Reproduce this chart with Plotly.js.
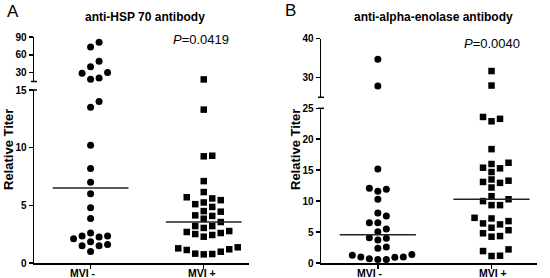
<!DOCTYPE html>
<html><head><meta charset="utf-8">
<script src="https://cdn.plot.ly/plotly-3.0.1.min.js"></script>
<style>html,body{margin:0;padding:0;background:#fff}#chart{width:550px;height:278px}</style>
</head><body><div id="chart"></div>
<script>
// ---------- data ----------
const categories = ['MVI -', 'MVI +'];
const hspNeg = [81, 73, 49, 40, 29, 30, 19, 21, 14.0, 13.5, 10.2, 8.2, 7.0, 6.0, 4.8, 3.85, 2.6, 2.35, 2.1, 2.25, 2.35, 1.85, 1.5, 1.5, 1.6, 1.0];
const hspPos = [18.5, 13.3, 9.3, 9.25, 7.1, 6.15, 5.7, 5.6, 5.45, 5.25, 5.1, 4.86, 4.5, 4.45, 4.13, 4.08, 3.84, 3.55, 3.2, 3.2, 3.04, 2.77, 2.69, 2.6, 2.51, 2.43, 2.28, 1.36, 1.27, 1.19, 1.13, 0.98, 0.81, 0.78, 0.75];
const enoNeg = [34.7, 27.9, 15.2, 12.1, 11.9, 11.6, 10.3, 8.1, 7.6, 6.5, 6.5, 5.5, 5.05, 4.1, 4.0, 3.7, 2.6, 2.4, 1.37, 1.27, 0.97, 0.95, 0.92, 0.68, 0.58, 0.55];
const enoPos = [31.7, 28.0, 23.6, 23.3, 22.9, 18.4, 16.2, 16.0, 15.4, 15.3, 14.7, 13.5, 13.3, 13.1, 12.95, 12.2, 10.8, 10.3, 10.0, 9.35, 9.35, 7.3, 7.2, 6.77, 6.4, 6.24, 5.7, 5.3, 4.8, 4.35, 4.25, 2.2, 1.93, 1.18, 1.13];
const hspTicksLower = [0, 5, 10, 15];
const hspTicksUpper = [30, 60, 90];
const enoTicksLower = [0, 5, 10, 15, 20, 25];
const enoTicksUpper = [30, 40];
const titles = ['anti-HSP 70 antibody', 'anti-alpha-enolase antibody'];
const pValues = ['0.0419', '0.0040'];
const panelLetters = ['A', 'B'];
const yTitle = 'Relative Titer';

// ---------- geometry (pixels) ----------
const W = 550, H = 278;
const FONT = 'Liberation Sans, Arial, sans-serif';
const panels = [
  {x0: 34, x1: 249, xr: [-0.5, 1.4],
   lower: {range: [0, 15], top: 90, bot: 263, ticks: hspTicksLower},
   upper: {range: [15, 90], top: 37, bot: 81.5, ticks: hspTicksUpper},
   groups: [hspNeg, hspPos], catShift: [-8, -2],
   title: {x: 145, y: 17}, p: {x: 201, y: 39}, letter: {x: 13, y: 12}, ytitle: {x: 8, y: 150}},
  {x0: 321, x1: 537, xr: [-0.5, 1.4],
   lower: {range: [0, 25], top: 108.3, bot: 263, ticks: enoTicksLower},
   upper: {range: [25, 40], top: 38.5, bot: 97.3, ticks: enoTicksUpper},
   groups: [enoNeg, enoPos], catShift: [-8, 1],
   title: {x: 433, y: 17}, p: {x: 492, y: 43}, letter: {x: 290, y: 11}, ytitle: {x: 295, y: 150}}
];

function segPx(seg, v) {
  return seg.bot - (v - seg.range[0]) / (seg.range[1] - seg.range[0]) * (seg.bot - seg.top);
}
function median(a) {
  const s = a.slice().sort((x, y) => x - y), n = s.length;
  return n % 2 ? s[(n - 1) / 2] : (s[n / 2 - 1] + s[n / 2]) / 2;
}
// simple column beeswarm: each slot is a column; no two marks in a column closer than d px
function swarm(vals, panel) {
  const slotPx = 8.5, d = 7.2;
  const pxPerUnit = (panel.x1 - panel.x0) / (panel.xr[1] - panel.xr[0]);
  const order = vals.map((v, i) => i).sort((a, b) => vals[a] - vals[b]);
  const placed = [], off = new Array(vals.length);
  for (const i of order) {
    const v = vals[i];
    const py = v > panel.lower.range[1] ? segPx(panel.upper, v) : segPx(panel.lower, v);
    for (let k = 0; k < 40; k++) {
      const s = k === 0 ? 0 : (k % 2 ? Math.ceil(k / 2) : -Math.ceil(k / 2));
      if (!placed.some(p => p.s === s && Math.abs(p.py - py) < d)) {
        placed.push({s, py}); off[i] = s * slotPx / pxPerUnit; break;
      }
    }
  }
  return off;
}

const traces = [], layout = {
  width: W, height: H, margin: {l: 0, r: 0, t: 0, b: 0},
  paper_bgcolor: '#fff', plot_bgcolor: 'rgba(0,0,0,0)', showlegend: false,
  hovermode: false, annotations: [], shapes: []
};
const tickFont = {family: FONT, size: 10, color: '#000', weight: 700};

panels.forEach((P, pi) => {
  const xa = pi === 0 ? 'x' : 'x2';
  const yl = pi === 0 ? 'y' : 'y3';
  const yu = pi === 0 ? 'y2' : 'y4';
  const xKey = pi === 0 ? 'xaxis' : 'xaxis2';
  const ylKey = pi === 0 ? 'yaxis' : 'yaxis3';
  const yuKey = pi === 0 ? 'yaxis2' : 'yaxis4';
  const axX = P.x0 / W;
  layout[xKey] = {domain: [P.x0 / W, P.x1 / W], range: P.xr, anchor: yl,
    tickvals: [0, 1], ticktext: categories, showticklabels: false, ticks: 'outside', ticklen: 4, tickwidth: 1.5,
    showline: true, linewidth: 1.5, linecolor: '#000', tickcolor: '#000',
    showgrid: false, zeroline: false, fixedrange: true, automargin: false};
  const yCommon = {anchor: xa, ticks: 'outside', ticklen: 4, tickwidth: 1.5, tickcolor: '#000',
    showline: true, linewidth: 1.5, linecolor: '#000', showgrid: false, zeroline: false,
    tickfont: tickFont, fixedrange: true, automargin: false};
  layout[ylKey] = Object.assign({}, yCommon, {domain: [1 - P.lower.bot / H, 1 - P.lower.top / H],
    range: P.lower.range, tickvals: P.lower.ticks});
  layout[yuKey] = Object.assign({}, yCommon, {domain: [1 - P.upper.bot / H, 1 - P.upper.top / H],
    range: P.upper.range, tickvals: P.upper.ticks});

  P.groups.forEach((vals, gi) => {
    const off = swarm(vals, P);
    const lo = {x: [], y: []}, up = {x: [], y: []};
    vals.forEach((v, i) => {
      const tgt = v > P.lower.range[1] ? up : lo;
      tgt.x.push(gi + off[i]); tgt.y.push(v);
    });
    const marker = gi === 0 ? {symbol: 'circle', size: 7, color: '#000'} : {symbol: 'square', size: 6.5, color: '#000'};
    traces.push({type: 'scatter', mode: 'markers', x: lo.x, y: lo.y, xaxis: xa, yaxis: yl, marker, cliponaxis: false});
    traces.push({type: 'scatter', mode: 'markers', x: up.x, y: up.y, xaxis: xa, yaxis: yu, marker, cliponaxis: false});
    const m = median(vals);
    traces.push({type: 'scatter', mode: 'lines', x: [gi - 0.335, gi + 0.335], y: [m, m], xaxis: xa, yaxis: yl,
      line: {color: '#222', width: 1.5}, cliponaxis: false});
    // category label
    layout.annotations.push({xref: xa, yref: 'paper', x: gi, y: 1 - 273 / H, xshift: P.catShift[gi],
      text: '<b>' + categories[gi] + '</b>', showarrow: false, xanchor: 'center', yanchor: 'middle',
      font: {family: FONT, size: 10.5, color: '#000'}});
  });

  // axis break caps
  [P.upper.bot, P.lower.top].forEach(py => {
    layout.shapes.push({type: 'line', xref: 'paper', yref: 'paper', x0: axX - 3 / W, x1: axX + 3 / W,
      y0: 1 - py / H, y1: 1 - py / H, line: {color: '#000', width: 1.5}});
  });

  layout.annotations.push({xref: 'paper', yref: 'paper', x: P.title.x / W, y: 1 - P.title.y / H,
    text: '<b>' + titles[pi] + '</b>', showarrow: false, xanchor: 'center', yanchor: 'middle',
    font: {family: FONT, size: 12, color: '#000'}});
  layout.annotations.push({xref: 'paper', yref: 'paper', x: P.p.x / W, y: 1 - P.p.y / H,
    text: '<i>P</i>=' + pValues[pi], showarrow: false, xanchor: 'center', yanchor: 'middle',
    font: {family: FONT, size: 13, color: '#000'}});
  layout.annotations.push({xref: 'paper', yref: 'paper', x: P.letter.x / W, y: 1 - P.letter.y / H,
    text: panelLetters[pi], showarrow: false, xanchor: 'center', yanchor: 'middle',
    font: {family: FONT, size: 17, color: '#000'}});
  layout.annotations.push({xref: 'paper', yref: 'paper', x: P.ytitle.x / W, y: 1 - P.ytitle.y / H,
    text: '<b>' + yTitle + '</b>', textangle: -90, showarrow: false, xanchor: 'center', yanchor: 'middle',
    font: {family: FONT, size: 13, color: '#000'}});
});

Plotly.newPlot('chart', traces, layout, {staticPlot: true, displayModeBar: false});
</script>
</body></html>
